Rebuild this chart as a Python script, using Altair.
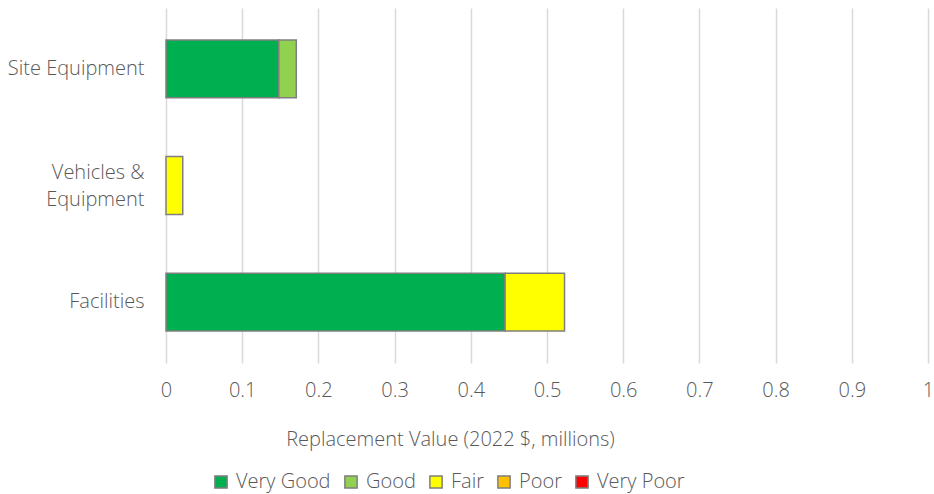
import altair as alt
import pandas as pd

categories = ["Site Equipment", "Site Equipment", "Vehicles & Equipment", "Facilities", "Facilities"]
conditions = ["Very Good", "Good", "Fair", "Very Good", "Fair"]
values = [0.148, 0.023, 0.022, 0.445, 0.078]

cond_domain = ["Very Good", "Good", "Fair", "Poor", "Very Poor"]
cond_colors = ["#00B050", "#92D050", "#FFFF00", "#FFC000", "#FF0000"]
cat_order = ["Site Equipment", "Vehicles & Equipment", "Facilities"]

df = pd.DataFrame({"Asset": categories, "Condition": conditions, "Value": values})
df["rank"] = df["Condition"].map({c: i for i, c in enumerate(cond_domain)})

FONT = "Open Sans"
GRAY = "#595959"
FS = 20

chart = alt.Chart(df).mark_bar(stroke="#7F7F7F", strokeWidth=1.5).encode(
    y=alt.Y("Asset:N", sort=cat_order,
            scale=alt.Scale(paddingInner=0.504, paddingOuter=0.274),
            axis=alt.Axis(title=None, ticks=False, domain=False, labelPadding=22,
                          labelFontSize=FS, labelColor=GRAY, labelFont=FONT, labelFontWeight=300,
                          labelExpr="datum.label == 'Vehicles & Equipment' ? ['Vehicles &', 'Equipment'] : datum.label",
                          labelOffset={"condition": {"test": "datum.value == 'Vehicles & Equipment'", "value": -13}, "value": 0},
                          labelLineHeight=27)),
    x=alt.X("Value:Q", stack="zero",
            scale=alt.Scale(domain=[0, 1], nice=False),
            axis=alt.Axis(values=[0, 0.1, 0.2, 0.3, 0.4, 0.5, 0.6, 0.7, 0.8, 0.9, 1],
                          labelExpr="format(datum.value, '~g')",
                          labelFlush=False,
                          title="Replacement Value (2022 $, millions)",
                          titleX=284, titleY=66, titleAlign="center",
                          titleFontSize=FS, titleFontWeight=300, titleColor=GRAY, titleFont=FONT,
                          ticks=False, domain=False, labelPadding=17,
                          labelFontSize=FS, labelColor=GRAY, labelFont=FONT, labelFontWeight=300,
                          grid=True, gridColor="#D9D9D9", gridWidth=1.5)),
    color=alt.Color("Condition:N",
                    scale=alt.Scale(domain=cond_domain, range=cond_colors),
                    legend=alt.Legend(title=None, orient="none", direction="horizontal",
                                      legendX=45, legendY=464,
                                      symbolType="square", symbolSize=150,
                                      symbolStrokeColor="#7F7F7F", symbolStrokeWidth=1.5,
                                      labelFontSize=FS, labelColor=GRAY, labelFont=FONT, labelFontWeight=300,
                                      columnPadding=10, labelOffset=5)),
    order=alt.Order("rank:Q"),
).properties(
    width=762, height=355,
    autosize=alt.AutoSizeParams(type="none"),
    padding={"left": 166, "top": 8, "right": 6, "bottom": 131},
).configure_view(stroke=None)

chart.save("out.html", embed_options={"renderer": "svg", "actions": False})
